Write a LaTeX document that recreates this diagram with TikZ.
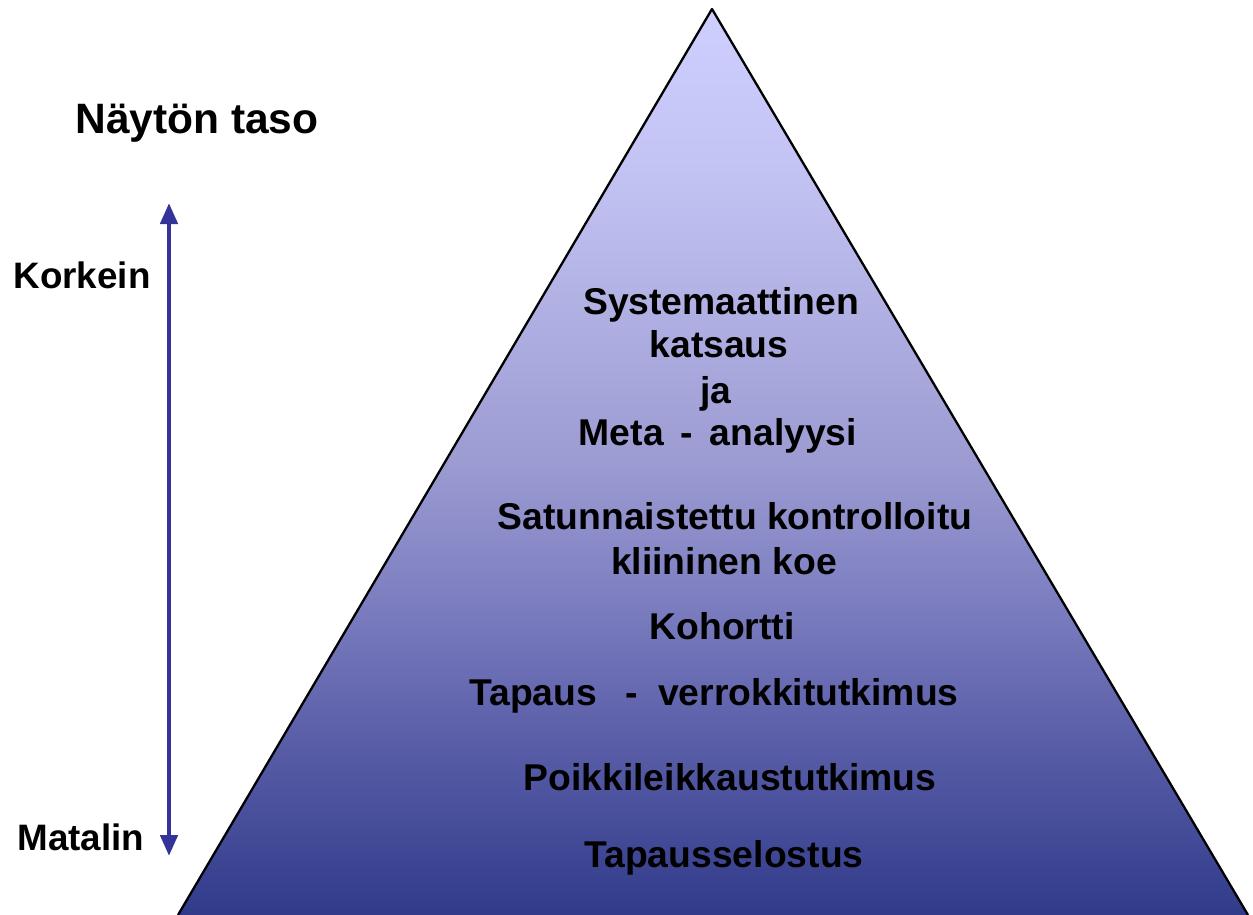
\documentclass[tikz,border=0pt]{standalone}
\usepackage{fontspec}
\setmainfont{Liberation Sans}
\usetikzlibrary{arrows.meta}

\definecolor{pyrBot}{HTML}{313B8A}
\definecolor{pyrA}{HTML}{5A5EA8}
\definecolor{pyrB}{HTML}{7C7EC0}
\definecolor{pyrC}{HTML}{9B9BD2}
\definecolor{pyrD}{HTML}{C4C4F4}
\definecolor{pyrTop}{HTML}{CFCFFF}
\definecolor{scaleblue}{HTML}{33339A}

% vertical colour ramp of the pyramid, dark at the base, pale at the apex
\pgfdeclareverticalshading{pyramidramp}{100bp}{%
  color(0bp)=(pyrBot);
  color(25bp)=(pyrBot);
  color(34.7bp)=(pyrA);
  color(42.4bp)=(pyrB);
  color(49.8bp)=(pyrC);
  color(66.7bp)=(pyrD);
  color(75bp)=(pyrTop);
  color(100bp)=(pyrTop)}

\tikzset{
  level/.style={font=\fontsize{37.3}{37.3}\selectfont\bfseries, inner sep=0pt, anchor=base},
  side/.style={font=\fontsize{36.8}{36.8}\selectfont\bfseries, inner sep=0pt, anchor=base},
  heading/.style={font=\fontsize{42.5}{42.5}\selectfont\bfseries, inner sep=0pt, anchor=base},
  scalearrow/.style={draw=scaleblue, line width=4.5pt,
    {Triangle[width=17pt,length=21pt]}-{Triangle[width=17pt,length=21pt]}},
  edge/.style={draw=black, line width=2.3pt, line join=round}
}

\begin{document}
\begin{tikzpicture}[x=1pt,y=-1pt]
\useasboundingbox (0,0) rectangle (1253,915);

% pyramid body
\coordinate (apex) at (712,9);
\coordinate (baseL) at (178,915);
\coordinate (baseR) at (1248,915);
\shade[shading=pyramidramp] (apex) -- (baseR) -- (baseL) -- cycle;
\draw[edge] (baseL) -- (apex) -- (baseR);

% evidence levels
\node[level] (sys1) at (721,314) {Systemaattinen};
\node[level] (sys2) at (719,357) {katsaus};
\node[level] (sys3) at (716,403) {ja};
\node[level] (sys4) at (718,445) {Meta\hspace{0.45em}-\hspace{0.45em}analyysi};
\node[level] (rct1) at (735,529) {Satunnaistettu kontrolloitu};
\node[level] (rct2) at (724,574) {kliininen koe};
\node[level] (coh)  at (722,639) {Kohortti};
\node[level] (cc)   at (714,705) {Tapaus\hspace{0.75em}-\hspace{0.55em}verrokkitutkimus};
\node[level] (cs)   at (730,790) {Poikkileikkaustutkimus};
\node[level] (rep)  at (724,867) {Tapausselostus};

% scale on the left
\node[heading] (title) at (197,134) {Näytön taso};
\node[side] (high) at (82,288) {Korkein};
\node[side] (low)  at (81,850) {Matalin};
\coordinate (top) at (169,203);
\coordinate (bot) at (169,856);
\draw[scalearrow] (bot) -- (top);
\end{tikzpicture}
\end{document}
